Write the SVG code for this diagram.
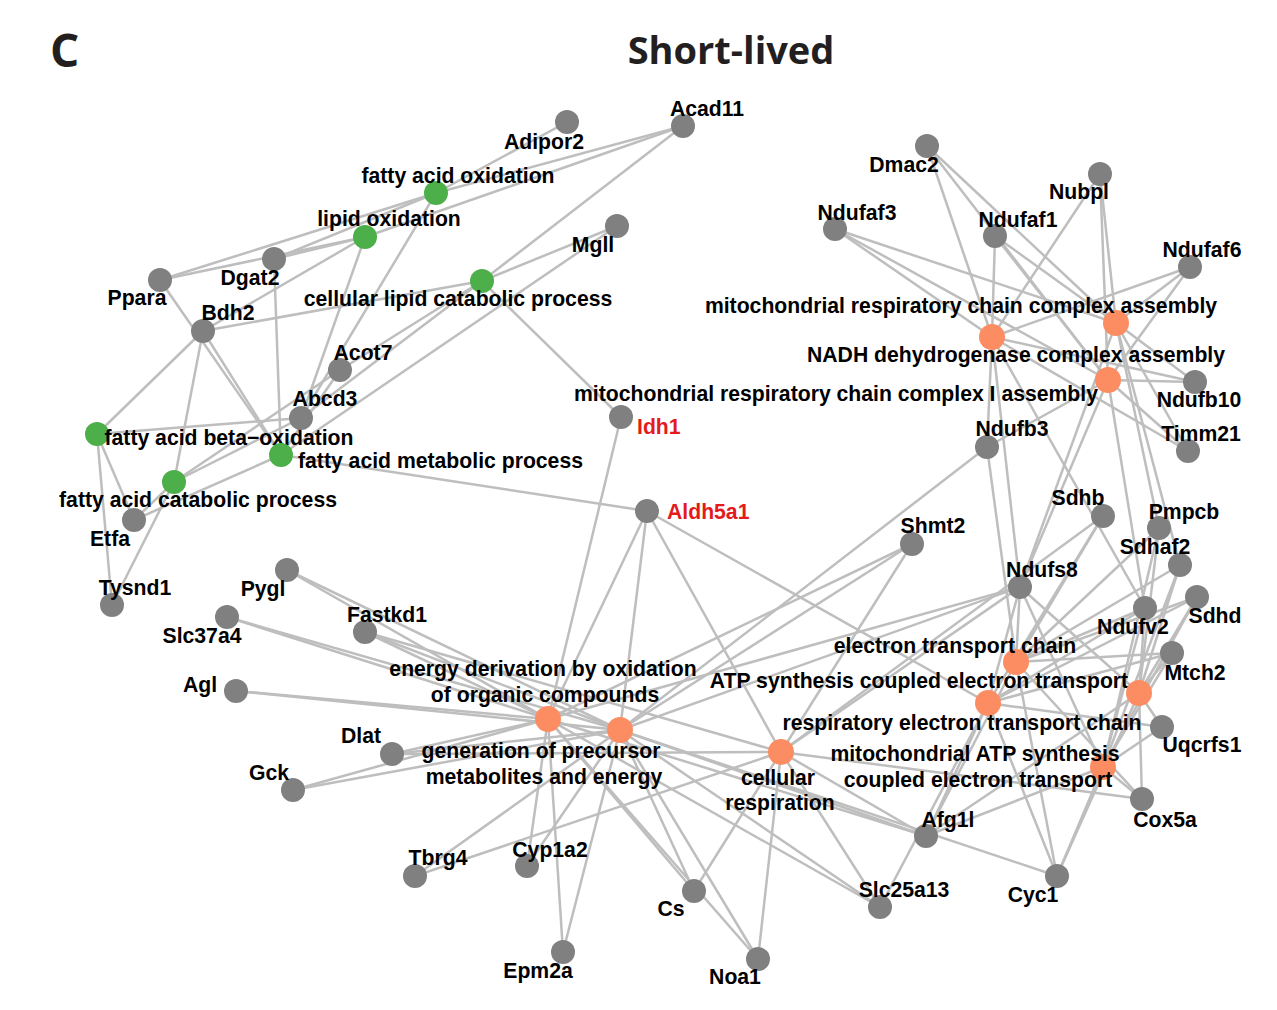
<svg xmlns="http://www.w3.org/2000/svg" width="1277" height="1010" viewBox="0 0 1277 1010">
<style>
.e line{stroke:#bebebe;stroke-width:2.5;}
.g{fill:#808080;}
.gr{fill:#4daf4a;}
.o{fill:#fc8d62;}
text{font-family:"Liberation Sans",Arial,sans-serif;font-weight:bold;font-size:21.2px;fill:#000;}
.m{text-anchor:middle;}
.red{fill:#e41a1c;}
.title{font-family:"Open Sans","Liberation Sans",sans-serif;font-size:38px;fill:#231f20;}
</style>
<rect width="1277" height="1010" fill="#fff"/>
<g id="connectors" class="e">
<!-- fatty acid oxidation -->
<line x1="436" y1="193" x2="567" y2="122"/><line x1="436" y1="193" x2="683" y2="126"/><line x1="436" y1="193" x2="160" y2="280"/><line x1="436" y1="193" x2="274" y2="259"/><line x1="436" y1="193" x2="301" y2="418"/>
<!-- lipid oxidation -->
<line x1="365" y1="237" x2="683" y2="126"/><line x1="365" y1="237" x2="160" y2="280"/><line x1="365" y1="237" x2="274" y2="259"/><line x1="365" y1="237" x2="203" y2="331"/><line x1="365" y1="237" x2="301" y2="418"/>
<!-- cellular lipid catabolic process -->
<line x1="482" y1="281" x2="683" y2="126"/><line x1="482" y1="281" x2="617" y2="226"/><line x1="482" y1="281" x2="203" y2="331"/><line x1="482" y1="281" x2="621" y2="417"/><line x1="482" y1="281" x2="301" y2="418"/><line x1="482" y1="281" x2="340" y2="370"/>
<!-- fatty acid beta-oxidation -->
<line x1="97" y1="434" x2="203" y2="331"/><line x1="97" y1="434" x2="301" y2="418"/><line x1="97" y1="434" x2="134" y2="520"/><line x1="97" y1="434" x2="112" y2="605"/>
<!-- fatty acid catabolic process -->
<line x1="174" y1="482" x2="203" y2="331"/><line x1="174" y1="482" x2="301" y2="418"/><line x1="174" y1="482" x2="340" y2="370"/><line x1="174" y1="482" x2="134" y2="520"/><line x1="174" y1="482" x2="112" y2="605"/>
<!-- fatty acid metabolic process -->
<line x1="281" y1="455" x2="160" y2="280"/><line x1="281" y1="455" x2="203" y2="331"/><line x1="281" y1="455" x2="274" y2="259"/><line x1="281" y1="455" x2="617" y2="226"/><line x1="281" y1="455" x2="134" y2="520"/><line x1="281" y1="455" x2="647" y2="511"/><line x1="281" y1="455" x2="340" y2="370"/>
<!-- NADH dehydrogenase complex assembly (A) -->
<line x1="992" y1="337" x2="927" y2="146"/><line x1="992" y1="337" x2="835" y2="229"/><line x1="992" y1="337" x2="995" y2="236"/><line x1="992" y1="337" x2="1100" y2="174"/><line x1="992" y1="337" x2="1190" y2="267"/><line x1="992" y1="337" x2="1195" y2="382"/><line x1="992" y1="337" x2="1188" y2="451"/><line x1="992" y1="337" x2="987" y2="447"/><line x1="992" y1="337" x2="1020" y2="587"/><line x1="992" y1="337" x2="1145" y2="608"/>
<!-- mitochondrial respiratory chain complex assembly (B) -->
<line x1="1116" y1="323" x2="927" y2="146"/><line x1="1116" y1="323" x2="835" y2="229"/><line x1="1116" y1="323" x2="995" y2="236"/><line x1="1116" y1="323" x2="1100" y2="174"/><line x1="1116" y1="323" x2="1190" y2="267"/><line x1="1116" y1="323" x2="1195" y2="382"/><line x1="1116" y1="323" x2="1188" y2="451"/><line x1="1116" y1="323" x2="1159" y2="528"/><line x1="1116" y1="323" x2="1180" y2="565"/><line x1="1116" y1="323" x2="1020" y2="587"/>
<!-- complex I assembly (C) -->
<line x1="1108" y1="380" x2="927" y2="146"/><line x1="1108" y1="380" x2="835" y2="229"/><line x1="1108" y1="380" x2="995" y2="236"/><line x1="1108" y1="380" x2="1100" y2="174"/><line x1="1108" y1="380" x2="1190" y2="267"/><line x1="1108" y1="380" x2="1195" y2="382"/><line x1="1108" y1="380" x2="1188" y2="451"/><line x1="1108" y1="380" x2="987" y2="447"/><line x1="1108" y1="380" x2="1145" y2="608"/><line x1="1108" y1="380" x2="1020" y2="587"/>
<!-- energy derivation (E1) -->
<line x1="548" y1="719" x2="287" y2="570"/><line x1="548" y1="719" x2="227" y2="617"/><line x1="548" y1="719" x2="365" y2="632"/><line x1="548" y1="719" x2="236" y2="691"/><line x1="548" y1="719" x2="392" y2="754"/><line x1="548" y1="719" x2="293" y2="790"/><line x1="548" y1="719" x2="527" y2="866"/><line x1="548" y1="719" x2="563" y2="952"/><line x1="548" y1="719" x2="694" y2="891"/><line x1="548" y1="719" x2="621" y2="417"/><line x1="548" y1="719" x2="647" y2="511"/><line x1="548" y1="719" x2="912" y2="544"/><line x1="548" y1="719" x2="1020" y2="587"/><line x1="548" y1="719" x2="880" y2="907"/><line x1="548" y1="719" x2="926" y2="836"/><line x1="548" y1="719" x2="758" y2="959"/>
<!-- generation of precursor (E2) -->
<line x1="620" y1="730" x2="287" y2="570"/><line x1="620" y1="730" x2="227" y2="617"/><line x1="620" y1="730" x2="365" y2="632"/><line x1="620" y1="730" x2="236" y2="691"/><line x1="620" y1="730" x2="392" y2="754"/><line x1="620" y1="730" x2="293" y2="790"/><line x1="620" y1="730" x2="415" y2="876"/><line x1="620" y1="730" x2="527" y2="866"/><line x1="620" y1="730" x2="563" y2="952"/><line x1="620" y1="730" x2="694" y2="891"/><line x1="620" y1="730" x2="758" y2="959"/><line x1="620" y1="730" x2="647" y2="511"/><line x1="620" y1="730" x2="912" y2="544"/><line x1="620" y1="730" x2="987" y2="447"/><line x1="620" y1="730" x2="1020" y2="587"/><line x1="620" y1="730" x2="880" y2="907"/><line x1="620" y1="730" x2="926" y2="836"/><line x1="620" y1="730" x2="1057" y2="876"/>
<!-- cellular respiration (CR) -->
<line x1="781" y1="752" x2="365" y2="632"/><line x1="781" y1="752" x2="392" y2="754"/><line x1="781" y1="752" x2="415" y2="876"/><line x1="781" y1="752" x2="694" y2="891"/><line x1="781" y1="752" x2="758" y2="959"/><line x1="781" y1="752" x2="647" y2="511"/><line x1="781" y1="752" x2="912" y2="544"/><line x1="781" y1="752" x2="1020" y2="587"/><line x1="781" y1="752" x2="1103" y2="516"/><line x1="781" y1="752" x2="880" y2="907"/><line x1="781" y1="752" x2="926" y2="836"/><line x1="781" y1="752" x2="1142" y2="799"/>
<!-- electron transport chain (ETC) -->
<line x1="1016" y1="662" x2="987" y2="447"/><line x1="1016" y1="662" x2="1020" y2="587"/><line x1="1016" y1="662" x2="1103" y2="516"/><line x1="1016" y1="662" x2="1180" y2="565"/><line x1="1016" y1="662" x2="1197" y2="597"/><line x1="1016" y1="662" x2="1145" y2="608"/><line x1="1016" y1="662" x2="1172" y2="653"/><line x1="1016" y1="662" x2="1142" y2="799"/><line x1="1016" y1="662" x2="1057" y2="876"/><line x1="1016" y1="662" x2="926" y2="836"/><line x1="1016" y1="662" x2="1159" y2="528"/>
<!-- ATP synthesis coupled electron transport (ATP) -->
<line x1="988" y1="703" x2="647" y2="511"/><line x1="988" y1="703" x2="1020" y2="587"/><line x1="988" y1="703" x2="1103" y2="516"/><line x1="988" y1="703" x2="1197" y2="597"/><line x1="988" y1="703" x2="1172" y2="653"/><line x1="988" y1="703" x2="1162" y2="727"/><line x1="988" y1="703" x2="1057" y2="876"/><line x1="988" y1="703" x2="926" y2="836"/><line x1="988" y1="703" x2="880" y2="907"/><line x1="988" y1="703" x2="1145" y2="608"/>
<!-- respiratory electron transport chain (RET) -->
<line x1="1139" y1="693" x2="1020" y2="587"/><line x1="1139" y1="693" x2="1159" y2="528"/><line x1="1139" y1="693" x2="1180" y2="565"/><line x1="1139" y1="693" x2="1197" y2="597"/><line x1="1139" y1="693" x2="1145" y2="608"/><line x1="1139" y1="693" x2="1172" y2="653"/><line x1="1139" y1="693" x2="1162" y2="727"/><line x1="1139" y1="693" x2="1142" y2="799"/><line x1="1139" y1="693" x2="926" y2="836"/><line x1="1139" y1="693" x2="1057" y2="876"/>
<!-- mitochondrial ATP synthesis coupled electron transport (MAT) -->
<line x1="1103" y1="767" x2="1020" y2="587"/><line x1="1103" y1="767" x2="1180" y2="565"/><line x1="1103" y1="767" x2="1145" y2="608"/><line x1="1103" y1="767" x2="1172" y2="653"/><line x1="1103" y1="767" x2="1162" y2="727"/><line x1="1103" y1="767" x2="1142" y2="799"/><line x1="1103" y1="767" x2="1057" y2="876"/><line x1="1103" y1="767" x2="926" y2="836"/><line x1="1103" y1="767" x2="1197" y2="597"/><line x1="1103" y1="767" x2="1159" y2="528"/>
</g>
<g id="terms">
<g id="n-fao"><circle class="gr" cx="436" cy="193" r="12"/><text class="m" x="458" y="183">fatty acid oxidation</text></g>
<g id="n-lo"><circle class="gr" cx="365" cy="237" r="12"/><text class="m" x="389" y="226">lipid oxidation</text></g>
<g id="n-clcp"><circle class="gr" cx="482" cy="281" r="12"/><text class="m" x="458" y="306">cellular lipid catabolic process</text></g>
<g id="n-fabo"><circle class="gr" cx="97" cy="434" r="12"/><text class="m" x="229" y="445">fatty acid beta−oxidation</text></g>
<g id="n-fac"><circle class="gr" cx="174" cy="482" r="12"/><text class="m" x="198" y="507">fatty acid catabolic process</text></g>
<g id="n-fam"><circle class="gr" cx="281" cy="455" r="12"/><text x="298" y="468">fatty acid metabolic process</text></g>
<g id="n-ndh"><circle class="o" cx="992" cy="337" r="13"/><text class="m" x="1016" y="362">NADH dehydrogenase complex assembly</text></g>
<g id="n-mrcca"><circle class="o" cx="1116" cy="323" r="13"/><text class="m" x="961" y="313">mitochondrial respiratory chain complex assembly</text></g>
<g id="n-mrcc1"><circle class="o" cx="1108" cy="380" r="13"/><text class="m" x="836" y="401">mitochondrial respiratory chain complex I assembly</text></g>
<g id="n-etc"><circle class="o" cx="1016" cy="662" r="13"/><text class="m" x="955" y="653">electron transport chain</text></g>
<g id="n-atp"><circle class="o" cx="988" cy="703" r="13"/><text class="m" x="919" y="688">ATP synthesis coupled electron transport</text></g>
<g id="n-ret"><circle class="o" cx="1139" cy="693" r="13"/><text class="m" x="962" y="730">respiratory electron transport chain</text></g>
<g id="n-mat"><circle class="o" cx="1103" cy="767" r="13"/><text class="m" x="975" y="761">mitochondrial ATP synthesis</text><text class="m" x="978" y="787">coupled electron transport</text></g>
<g id="n-cr"><circle class="o" cx="781" cy="752" r="13"/><text class="m" x="778" y="785">cellular</text><text class="m" x="780" y="810">respiration</text></g>
<g id="n-edo"><circle class="o" cx="548" cy="719" r="13"/><text class="m" x="543" y="676">energy derivation by oxidation</text><text class="m" x="545" y="702">of organic compounds</text></g>
<g id="n-gpm"><circle class="o" cx="620" cy="730" r="13"/><text class="m" x="541" y="758">generation of precursor</text><text class="m" x="544" y="784">metabolites and energy</text></g>
</g>
<g id="genes">
<g id="n-Adipor2"><circle class="g" cx="567" cy="122" r="12"/><text class="m" x="544" y="149">Adipor2</text></g>
<g id="n-Acad11"><circle class="g" cx="683" cy="126" r="12"/><text class="m" x="707" y="116">Acad11</text></g>
<g id="n-Mgll"><circle class="g" cx="617" cy="226" r="12"/><text class="m" x="593" y="252">Mgll</text></g>
<g id="n-Dgat2"><circle class="g" cx="274" cy="259" r="12"/><text class="m" x="250" y="285">Dgat2</text></g>
<g id="n-Ppara"><circle class="g" cx="160" cy="280" r="12"/><text class="m" x="137" y="305">Ppara</text></g>
<g id="n-Bdh2"><circle class="g" cx="203" cy="331" r="12"/><text class="m" x="228" y="320">Bdh2</text></g>
<g id="n-Acot7"><circle class="g" cx="340" cy="370" r="12"/><text class="m" x="363" y="360">Acot7</text></g>
<g id="n-Abcd3"><circle class="g" cx="301" cy="418" r="12"/><text class="m" x="325" y="406">Abcd3</text></g>
<g id="n-Etfa"><circle class="g" cx="134" cy="520" r="12"/><text class="m" x="110" y="546">Etfa</text></g>
<g id="n-Tysnd1"><circle class="g" cx="112" cy="605" r="12"/><text class="m" x="135" y="595">Tysnd1</text></g>
<g id="n-Idh1"><circle class="g" cx="621" cy="417" r="12"/><text class="red" x="637" y="434">Idh1</text></g>
<g id="n-Aldh5a1"><circle class="g" cx="647" cy="511" r="12"/><text class="red" x="667" y="519">Aldh5a1</text></g>
<g id="n-Pygl"><circle class="g" cx="287" cy="570" r="12"/><text class="m" x="263" y="596">Pygl</text></g>
<g id="n-Slc37a4"><circle class="g" cx="227" cy="617" r="12"/><text class="m" x="202" y="643">Slc37a4</text></g>
<g id="n-Fastkd1"><circle class="g" cx="365" cy="632" r="12"/><text class="m" x="387" y="622">Fastkd1</text></g>
<g id="n-Agl"><circle class="g" cx="236" cy="691" r="12"/><text class="m" x="200" y="692">Agl</text></g>
<g id="n-Dlat"><circle class="g" cx="392" cy="754" r="12"/><text class="m" x="361" y="743">Dlat</text></g>
<g id="n-Gck"><circle class="g" cx="293" cy="790" r="12"/><text class="m" x="269" y="780">Gck</text></g>
<g id="n-Tbrg4"><circle class="g" cx="415" cy="876" r="12"/><text class="m" x="438" y="865">Tbrg4</text></g>
<g id="n-Cyp1a2"><circle class="g" cx="527" cy="866" r="12"/><text class="m" x="550" y="857">Cyp1a2</text></g>
<g id="n-Epm2a"><circle class="g" cx="563" cy="952" r="12"/><text class="m" x="538" y="978">Epm2a</text></g>
<g id="n-Cs"><circle class="g" cx="694" cy="891" r="12"/><text class="m" x="671" y="916">Cs</text></g>
<g id="n-Noa1"><circle class="g" cx="758" cy="959" r="12"/><text class="m" x="735" y="984">Noa1</text></g>
<g id="n-Slc25a13"><circle class="g" cx="880" cy="907" r="12"/><text class="m" x="904" y="897">Slc25a13</text></g>
<g id="n-Afg1l"><circle class="g" cx="926" cy="836" r="12"/><text class="m" x="948" y="827">Afg1l</text></g>
<g id="n-Cyc1"><circle class="g" cx="1057" cy="876" r="12"/><text class="m" x="1033" y="902">Cyc1</text></g>
<g id="n-Cox5a"><circle class="g" cx="1142" cy="799" r="12"/><text class="m" x="1165" y="827">Cox5a</text></g>
<g id="n-Uqcrfs1"><circle class="g" cx="1162" cy="727" r="12"/><text class="m" x="1202" y="752">Uqcrfs1</text></g>
<g id="n-Mtch2"><circle class="g" cx="1172" cy="653" r="12"/><text class="m" x="1195" y="680">Mtch2</text></g>
<g id="n-Sdhd"><circle class="g" cx="1197" cy="597" r="12"/><text class="m" x="1215" y="623">Sdhd</text></g>
<g id="n-Ndufv2"><circle class="g" cx="1145" cy="608" r="12"/><text class="m" x="1133" y="634">Ndufv2</text></g>
<g id="n-Sdhaf2"><circle class="g" cx="1180" cy="565" r="12"/><text class="m" x="1155" y="554">Sdhaf2</text></g>
<g id="n-Pmpcb"><circle class="g" cx="1159" cy="528" r="12"/><text class="m" x="1184" y="519">Pmpcb</text></g>
<g id="n-Sdhb"><circle class="g" cx="1103" cy="516" r="12"/><text class="m" x="1078" y="505">Sdhb</text></g>
<g id="n-Ndufs8"><circle class="g" cx="1020" cy="587" r="12"/><text class="m" x="1042" y="577">Ndufs8</text></g>
<g id="n-Shmt2"><circle class="g" cx="912" cy="544" r="12"/><text class="m" x="933" y="533">Shmt2</text></g>
<g id="n-Ndufb3"><circle class="g" cx="987" cy="447" r="12"/><text class="m" x="1012" y="436">Ndufb3</text></g>
<g id="n-Timm21"><circle class="g" cx="1188" cy="451" r="12"/><text class="m" x="1201" y="441">Timm21</text></g>
<g id="n-Ndufb10"><circle class="g" cx="1195" cy="382" r="12"/><text class="m" x="1199" y="407">Ndufb10</text></g>
<g id="n-Ndufaf6"><circle class="g" cx="1190" cy="267" r="12"/><text class="m" x="1202" y="257">Ndufaf6</text></g>
<g id="n-Nubpl"><circle class="g" cx="1100" cy="174" r="12"/><text class="m" x="1079" y="199">Nubpl</text></g>
<g id="n-Ndufaf1"><circle class="g" cx="995" cy="236" r="12"/><text class="m" x="1018" y="227">Ndufaf1</text></g>
<g id="n-Ndufaf3"><circle class="g" cx="835" cy="229" r="12"/><text class="m" x="857" y="220">Ndufaf3</text></g>
<g id="n-Dmac2"><circle class="g" cx="927" cy="146" r="12"/><text class="m" x="904" y="172">Dmac2</text></g>
</g>
<text class="title" x="50" y="67" style="font-size:46px">C</text>
<text class="title m" x="731" y="64">Short-lived</text>
</svg>
